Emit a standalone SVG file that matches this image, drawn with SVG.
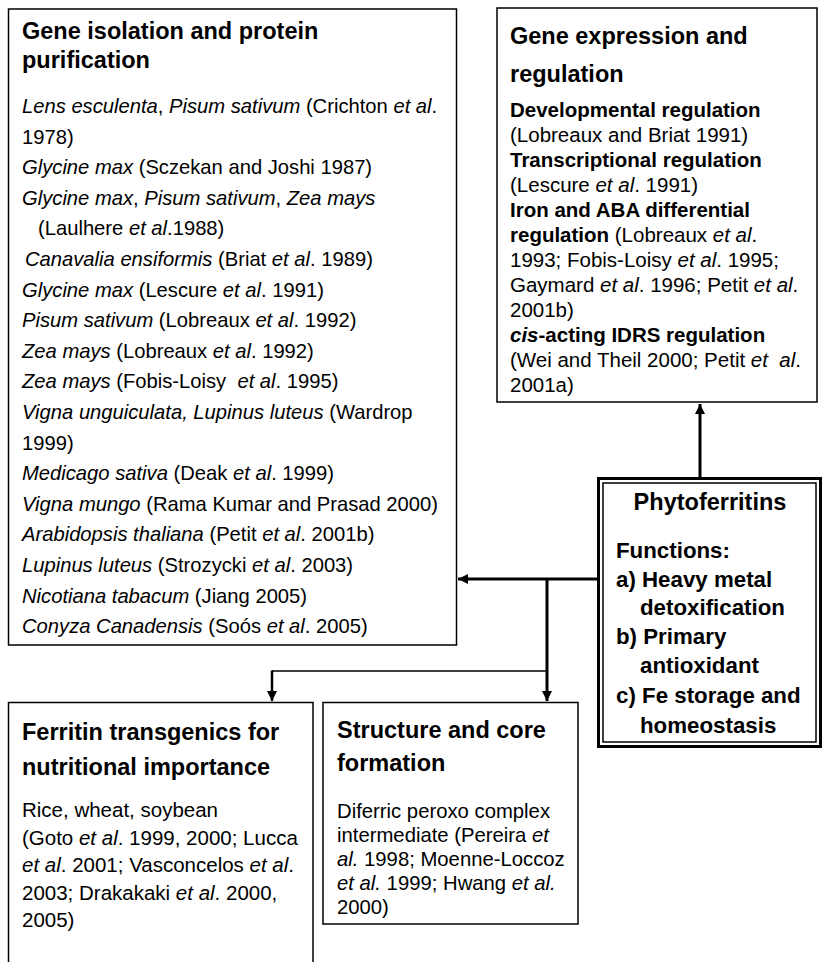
<svg xmlns="http://www.w3.org/2000/svg" width="824" height="962" viewBox="0 0 824 962">
<defs>
<style>
.box{fill:#fff;stroke:#000;stroke-width:1.5}
text{font-family:"Liberation Sans",Arial,sans-serif;fill:#000}
.t{font-size:23.5px;font-weight:bold}
.b{font-size:20.2px}
.r{font-size:20.5px}
.s{font-size:20.3px}
.f{font-size:22.3px;font-weight:bold}
.i{font-style:italic}
.w{font-weight:bold}
.ln{fill:none;stroke:#000}
</style>
<marker id="ah" viewBox="0 0 10 10" refX="10" refY="5" markerWidth="10" markerHeight="10" markerUnits="userSpaceOnUse" orient="auto">
<path d="M0,0 L10,5 L0,10 Z" fill="#000"/>
</marker>
</defs>
<rect width="824" height="962" fill="#fff"/>

<g id="gene-isolation">
<rect class="box" x="8.5" y="9" width="448" height="636"/>
<text class="t" x="22" y="39">Gene isolation and protein</text>
<text class="t" x="22" y="68">purification</text>
<text class="b" x="22" y="113"><tspan class="i">Lens esculenta</tspan>, <tspan class="i">Pisum sativum</tspan> (Crichton <tspan class="i">et al</tspan>.</text>
<text class="b" x="22" y="143.6">1978)</text>
<text class="b" x="22" y="174.2"><tspan class="i">Glycine max</tspan> (Sczekan and Joshi 1987)</text>
<text class="b" x="22" y="204.8"><tspan class="i">Glycine max</tspan>, <tspan class="i">Pisum sativum</tspan>, <tspan class="i">Zea mays</tspan></text>
<text class="b" x="38" y="235.4">(Laulhere <tspan class="i">et al</tspan>.1988)</text>
<text class="b" x="25" y="266" fill="#222"><tspan class="i">Canavalia ensiformis</tspan> (Briat <tspan class="i">et al</tspan>. 1989)</text>
<text class="b" x="22" y="296.6"><tspan class="i">Glycine max</tspan> (Lescure <tspan class="i">et al</tspan>. 1991)</text>
<text class="b" x="22" y="327.2"><tspan class="i">Pisum sativum</tspan> (Lobreaux <tspan class="i">et al</tspan>. 1992)</text>
<text class="b" x="22" y="357.8"><tspan class="i">Zea mays</tspan> (Lobreaux <tspan class="i">et al</tspan>. 1992)</text>
<text class="b" x="22" y="388.4"><tspan class="i">Zea mays</tspan> (Fobis-Loisy&#160; <tspan class="i">et al</tspan>. 1995)</text>
<text class="b" x="22" y="419"><tspan class="i">Vigna unguiculata, Lupinus luteus</tspan> (Wardrop</text>
<text class="b" x="22" y="449.6">1999)</text>
<text class="b" x="22" y="480.2"><tspan class="i">Medicago sativa</tspan> (Deak <tspan class="i">et al</tspan>. 1999)</text>
<text class="b" x="22" y="510.8"><tspan class="i">Vigna mungo</tspan> (Rama Kumar and Prasad 2000)</text>
<text class="b" x="22" y="541.4"><tspan class="i">Arabidopsis thaliana</tspan> (Petit <tspan class="i">et al</tspan>. 2001b)</text>
<text class="b" x="22" y="572"><tspan class="i">Lupinus luteus</tspan> (Strozycki <tspan class="i">et al</tspan>. 2003)</text>
<text class="b" x="22" y="602.6"><tspan class="i">Nicotiana tabacum</tspan> (Jiang 2005)</text>
<text class="b" x="22" y="633.2"><tspan class="i">Conyza Canadensis</tspan> (Soós <tspan class="i">et al</tspan>. 2005)</text>
</g>

<g id="gene-expression">
<rect class="box" x="497" y="8" width="320" height="394"/>
<text class="t" x="510" y="44">Gene expression and</text>
<text class="t" x="510" y="82">regulation</text>
<text class="r w" x="510" y="117">Developmental regulation</text>
<text class="r" x="510" y="142">(Lobreaux and Briat 1991)</text>
<text class="r w" x="510" y="167">Transcriptional regulation</text>
<text class="r" x="510" y="192">(Lescure <tspan class="i">et al</tspan>. 1991)</text>
<text class="r w" x="510" y="217">Iron and ABA differential</text>
<text class="r" x="510" y="242"><tspan class="w">regulation</tspan> (Lobreaux <tspan class="i">et al</tspan>.</text>
<text class="r" x="510" y="267">1993; Fobis-Loisy <tspan class="i">et al</tspan>. 1995;</text>
<text class="r" x="510" y="292">Gaymard <tspan class="i">et al</tspan>. 1996; Petit <tspan class="i">et al</tspan>.</text>
<text class="r" x="510" y="317">2001b)</text>
<text class="r w" x="510" y="342"><tspan class="i">cis</tspan>-acting IDRS regulation</text>
<text class="r" x="510" y="367">(Wei and Theil 2000; Petit <tspan class="i">et</tspan>&#160; <tspan class="i">al</tspan>.</text>
<text class="r" x="510" y="392">2001a)</text>
</g>

<g id="phytoferritins">
<rect x="598.5" y="478.5" width="222" height="268" fill="#fff" stroke="#000" stroke-width="3"/>
<rect x="603" y="483" width="213" height="259" fill="none" stroke="#000" stroke-width="1.5"/>
<text class="t" x="710" y="510" text-anchor="middle">Phytoferritins</text>
<text class="f" x="616" y="558">Functions:</text>
<text class="f" x="616" y="587">a) Heavy metal</text>
<text class="f" x="640" y="615">detoxification</text>
<text class="f" x="616" y="644">b) Primary</text>
<text class="f" x="640" y="673">antioxidant</text>
<text class="f" x="616" y="703">c) Fe storage and</text>
<text class="f" x="640" y="733">homeostasis</text>
</g>

<g id="ferritin-transgenics">
<path class="box" d="M8.5,970 V702.5 H313 V970"/>
<text class="t" x="22" y="740">Ferritin transgenics for</text>
<text class="t" x="22" y="775">nutritional importance</text>
<text class="r" x="22" y="817">Rice, wheat, soybean</text>
<text class="r" x="22" y="845">(Goto <tspan class="i">et al</tspan>. 1999, 2000; Lucca</text>
<text class="r" x="22" y="872"><tspan class="i">et al</tspan>. 2001; Vasconcelos <tspan class="i">et al</tspan>.</text>
<text class="r" x="22" y="900">2003; Drakakaki <tspan class="i">et al</tspan>. 2000,</text>
<text class="r" x="22" y="927">2005)</text>
</g>

<g id="structure-core">
<rect class="box" x="323" y="702.5" width="255" height="221.5"/>
<text class="t" x="337" y="738">Structure and core</text>
<text class="t" x="337" y="771">formation</text>
<text class="s" x="337" y="818">Diferric peroxo complex</text>
<text class="s" x="337" y="842">intermediate (Pereira <tspan class="i">et</tspan></text>
<text class="s" x="337" y="866"><tspan class="i">al.</tspan> 1998; Moenne-Loccoz</text>
<text class="s" x="337" y="890"><tspan class="i">et al.</tspan> 1999; Hwang <tspan class="i">et al.</tspan></text>
<text class="s" x="337" y="914">2000)</text>
</g>

<g id="connectors">
<path class="ln" stroke-width="3" d="M700,477 V404" marker-end="url(#ah)"/>
<path class="ln" stroke-width="3" d="M597,579 H458" marker-end="url(#ah)"/>
<path class="ln" stroke-width="3" d="M547,579 V701" marker-end="url(#ah)"/>
<path class="ln" stroke-width="1.5" d="M547,671 H272"/>
<path class="ln" stroke-width="2.5" d="M272,670.5 V701" marker-end="url(#ah)"/>
</g>
</svg>
